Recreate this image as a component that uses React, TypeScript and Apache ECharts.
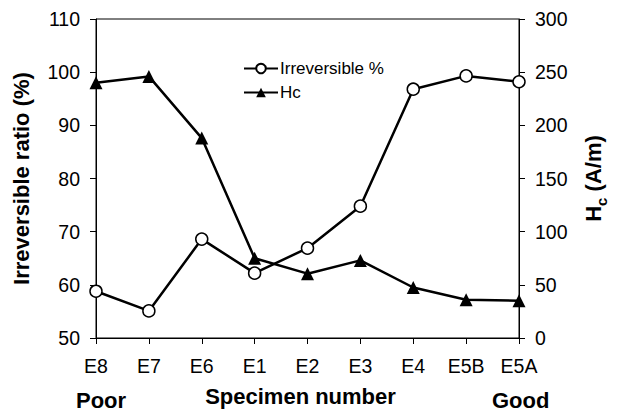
import { useEffect, useRef } from "react";
import * as echarts from "echarts";

const categories = ["E8", "E7", "E6", "E1", "E2", "E3", "E4", "E5B", "E5A"];
const irreversible = [58.8, 55.1, 68.6, 62.2, 66.9, 74.8, 96.8, 99.3, 98.2];
const hc = [240, 246, 188, 75, 60.5, 73, 47.5, 36, 35];
const leftAxis = { min: 50, max: 110, interval: 10 };
const rightAxis = { min: 0, max: 300, interval: 50 };

const FONT = '"Liberation Sans", Arial, sans-serif';
const TICK = 19.5;
const TITLE = 22;

export default function App() {
  const ref = useRef<HTMLDivElement>(null);
  useEffect(() => {
    document.body.style.margin = "0";
    if (!ref.current) return;
    const chart = echarts.init(ref.current, undefined, { renderer: "svg" });
    chart.setOption({
      animation: false,
      backgroundColor: "#fff",
      textStyle: { fontFamily: FONT, color: "#000" },
      grid: {
        left: 96,
        right: 84,
        top: 19,
        bottom: 67,
        show: true,
        borderColor: "#000",
        borderWidth: 1,
        backgroundColor: "transparent",
      },
      legend: {
        orient: "vertical",
        left: 238,
        top: 55,
        itemWidth: 34,
        itemHeight: 12,
        itemGap: 7,
        data: ["Irreversible %", "Hc"],
        textStyle: { fontFamily: FONT, fontSize: 17, color: "#000", padding: [0, 0, 0, -3] },
      },
      xAxis: {
        type: "category",
        data: categories,
        boundaryGap: false,
        axisLine: { lineStyle: { color: "#000", width: 1 } },
        axisTick: { show: true, length: 6, lineStyle: { color: "#000" } },
        axisLabel: { fontSize: TICK, color: "#000", margin: 18, fontFamily: FONT },
        splitLine: { show: false },
        name: "Specimen number",
        nameLocation: "middle",
        nameGap: 47,
        nameTextStyle: {
          fontSize: TITLE,
          fontWeight: "bold",
          color: "#000",
          fontFamily: FONT,
          padding: [0, 14, 0, 0],
        },
      },
      yAxis: [
        {
          type: "value",
          min: leftAxis.min,
          max: leftAxis.max,
          interval: leftAxis.interval,
          position: "left",
          axisLine: { show: true, lineStyle: { color: "#000", width: 1 } },
          axisTick: { show: true, length: 6, lineStyle: { color: "#000" } },
          axisLabel: { fontSize: TICK, color: "#000", margin: 16, fontFamily: FONT },
          splitLine: { show: false },
          name: "Irreversible ratio (%)",
          nameLocation: "middle",
          nameRotate: 90,
          nameGap: 64,
          nameTextStyle: { fontSize: TITLE, fontWeight: "bold", color: "#000", fontFamily: FONT },
        },
        {
          type: "value",
          min: rightAxis.min,
          max: rightAxis.max,
          interval: rightAxis.interval,
          position: "right",
          axisLine: { show: true, lineStyle: { color: "#000", width: 1 } },
          axisTick: { show: true, length: 6, lineStyle: { color: "#000" } },
          axisLabel: { fontSize: TICK, color: "#000", margin: 16, fontFamily: FONT },
          splitLine: { show: false },
          name: "{h|H}{s|c}{h| (A/m)}",
          nameLocation: "middle",
          nameRotate: 90,
          nameGap: 63,
          nameTextStyle: {
            color: "#000",
            fontFamily: FONT,
            rich: {
              h: { fontSize: TITLE, fontWeight: "bold", fontFamily: FONT, color: "#000" },
              s: {
                fontSize: 15,
                fontWeight: "bold",
                fontFamily: FONT,
                color: "#000",
                verticalAlign: "bottom",
                padding: [0, 0, -5, 0],
              },
            },
          },
        },
      ],
      series: [
        {
          name: "Irreversible %",
          type: "line",
          data: irreversible,
          yAxisIndex: 0,
          symbol: "circle",
          symbolSize: 12,
          showAllSymbol: true,
          lineStyle: { color: "#000", width: 2.5 },
          itemStyle: { color: "#fff", borderColor: "#000", borderWidth: 1.5 },
          z: 3,
        },
        {
          name: "Hc",
          type: "line",
          data: hc,
          yAxisIndex: 1,
          symbol: "triangle",
          symbolSize: 13,
          showAllSymbol: true,
          lineStyle: { color: "#000", width: 2.5 },
          itemStyle: { color: "#000", borderColor: "#000", borderWidth: 0 },
          z: 2,
        },
      ],
      graphic: [
        {
          type: "text",
          left: 76,
          top: 389,
          style: {
            text: "Poor",
            font: `bold ${TITLE}px ${FONT}`,
            fill: "#000",
          },
        },
        {
          type: "text",
          left: 492,
          top: 389,
          style: {
            text: "Good",
            font: `bold ${TITLE}px ${FONT}`,
            fill: "#000",
          },
        },
      ],
    });
    return () => chart.dispose();
  }, []);
  return (
    <div
      ref={ref}
      style={{ width: 617, height: 412, position: "absolute", left: 0, top: 0 }}
    />
  );
}
